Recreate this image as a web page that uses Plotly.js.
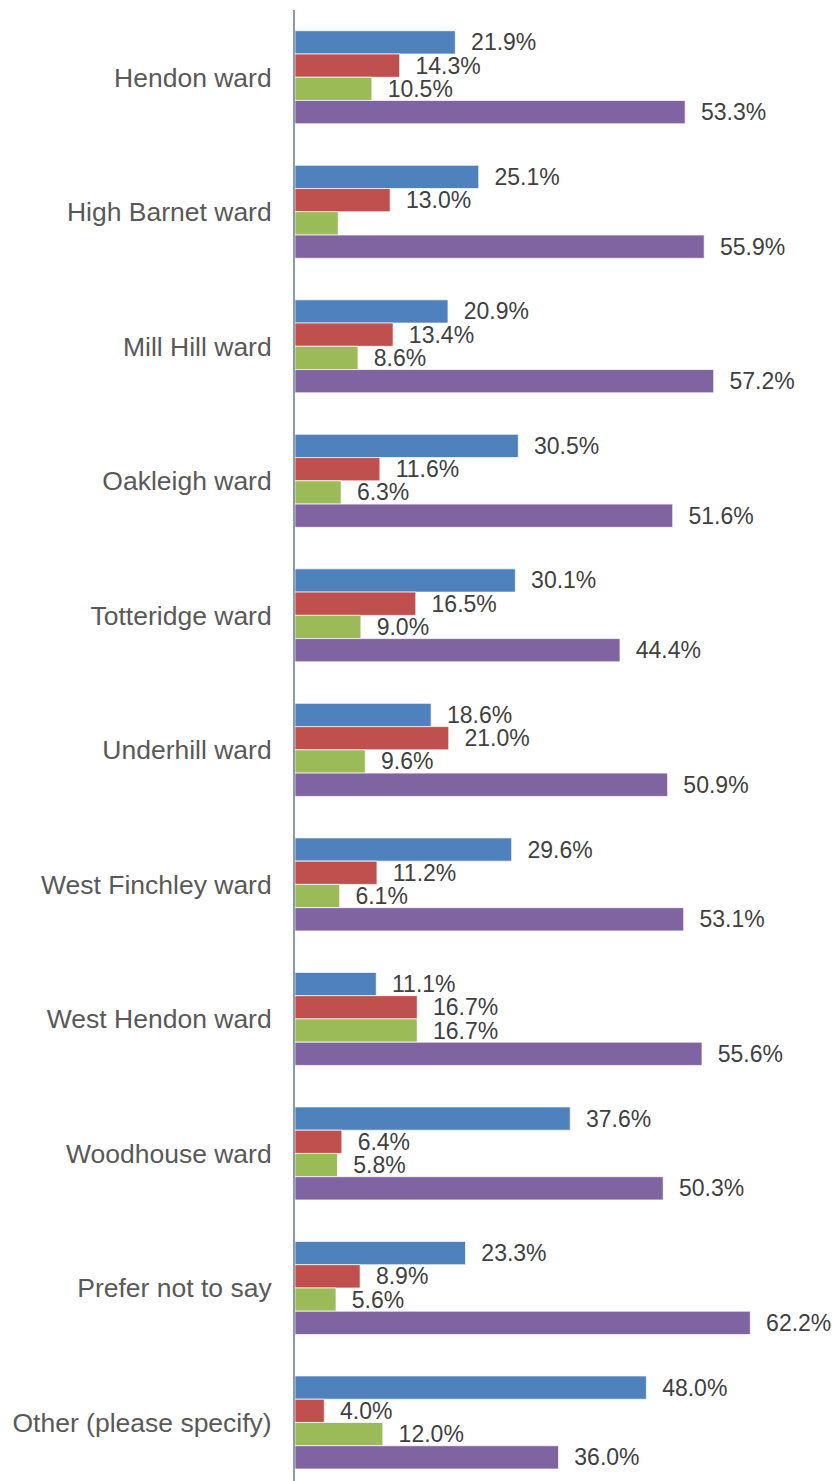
<!DOCTYPE html>
<html>
<head>
<meta charset="utf-8">
<script src="https://cdn.plot.ly/plotly-3.0.1.min.js"></script>
<style>
html,body{margin:0;padding:0;background:#fff;}
#chart{width:838px;height:1481px;}
</style>
</head>
<body>
<div id="chart"></div>
<script>
var categories = ["Hendon ward","High Barnet ward","Mill Hill ward","Oakleigh ward","Totteridge ward","Underhill ward","West Finchley ward","West Hendon ward","Woodhouse ward","Prefer not to say","Other (please specify)"];
var seriesNames = ["Series 1","Series 2","Series 3","Series 4"];
var series1 = [21.9,25.1,20.9,30.5,30.1,18.6,29.6,11.1,37.6,23.3,48.0];
var series2 = [14.3,13.0,13.4,11.6,16.5,21.0,11.2,16.7,6.4,8.9,4.0];
var series3 = [10.5,5.9,8.6,6.3,9.0,9.6,6.1,16.7,5.8,5.6,12.0];
var series4 = [53.3,55.9,57.2,51.6,44.4,50.9,53.1,55.6,50.3,62.2,36.0];
var colors = ["#4F81BD","#C0504D","#9BBB59","#8064A2"];
// labels not shown in the reference: [series index, category index]
var hiddenLabels = [[2,1]];

var all = [series1,series2,series3,series4];
var FONT = "'Liberation Sans', Arial, sans-serif";
var traces = all.map(function(vals, s){
  var txt = vals.map(function(v, i){
    var hidden = hiddenLabels.some(function(h){return h[0]===s && h[1]===i;});
    return hidden ? "" : "\u00a0\u00a0" + v.toFixed(1) + "%";
  });
  return {
    type:"bar", orientation:"h", name:seriesNames[s],
    x:vals, y:categories,
    text:txt, textposition:"outside", constraintext:"none", cliponaxis:false,
    textfont:{family:FONT, size:23, color:"#404040"},
    marker:{color:colors[s], line:{color:"rgba(255,255,255,0.7)", width:1}},
    hoverinfo:"x+y"
  };
});

var layout = {
  width:838, height:1481,
  margin:{l:295, r:0, t:10, b:0, pad:0},
  paper_bgcolor:"#fff", plot_bgcolor:"#fff",
  barmode:"group", bargap:0.3086, bargroupgap:0,
  showlegend:false,
  font:{family:FONT},
  xaxis:{range:[0,74.18], showgrid:false, zeroline:false, showticklabels:false, showline:false, ticks:""},
  yaxis:{type:"category", range:[10.435,-0.5], showgrid:false, zeroline:false,
    showline:true, linecolor:"#8A9AAB", linewidth:2, ticks:"",
    ticklabelstandoff:16,
    tickfont:{family:FONT, size:26.5, color:"#595959"}}
};
Plotly.newPlot("chart", traces, layout, {staticPlot:true, displayModeBar:false});
</script>
</body>
</html>
